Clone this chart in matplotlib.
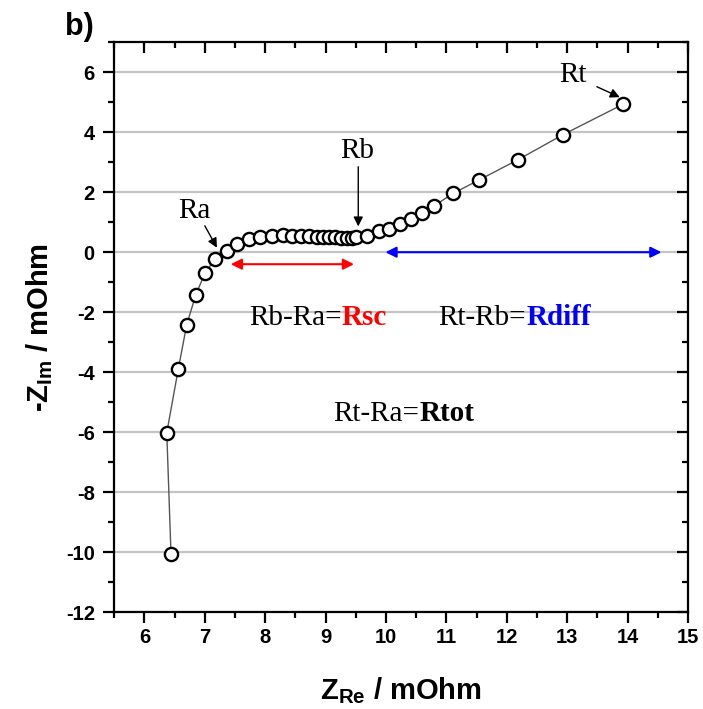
import matplotlib
matplotlib.use("Agg")
import matplotlib.pyplot as plt
from matplotlib.ticker import MultipleLocator

plt.rcParams["font.family"] = "Liberation Sans"
plt.rcParams["font.weight"] = "bold"
plt.rcParams["axes.labelweight"] = "bold"
plt.rcParams["axes.unicode_minus"] = False
plt.rcParams["mathtext.fontset"] = "custom"
plt.rcParams["mathtext.rm"] = "Liberation Sans:bold"
plt.rcParams["mathtext.bf"] = "Liberation Sans:bold"
plt.rcParams["mathtext.it"] = "Liberation Sans:bold"

# Nyquist data (mOhm).
z_re = [6.44, 6.37, 6.56, 6.70, 6.85, 7.00, 7.17, 7.36, 7.54, 7.73, 7.92, 8.11,
        8.29, 8.44, 8.59, 8.73, 8.85, 8.96, 9.06, 9.16, 9.25, 9.35, 9.43, 9.51,
        9.68, 9.89, 10.05, 10.23, 10.41, 10.60, 10.79, 11.11, 11.54, 12.18,
        12.93, 13.93]
z_im = [-10.08, -6.02, -3.90, -2.42, -1.42, -0.71, -0.22, 0.05, 0.29, 0.45,
        0.52, 0.55, 0.57, 0.55, 0.54, 0.53, 0.52, 0.51, 0.50, 0.50, 0.49, 0.49,
        0.49, 0.51, 0.55, 0.71, 0.79, 0.95, 1.10, 1.31, 1.54, 1.96, 2.41, 3.08,
        3.92, 4.94]

# Characteristic points and ranges.
ra_pt = (7.20, 0.15)
rb_pt = (9.54, 0.86)
rt_pt = (13.87, 5.17)
rsc_range = (7.43, 9.47)
rdiff_range = (9.99, 14.56)

fig = plt.figure(figsize=(7.03, 7.09), dpi=100)
ax = fig.add_axes([0.1625, 0.1368, 0.8162, 0.8035])

ax.plot(z_re, z_im, color="#555555", lw=1.0, zorder=2)
ax.plot(z_re, z_im, ls="none", marker="o", ms=9.5, mfc="white", mec="black",
        mew=1.7, zorder=3)

ax.set_xlim(5.5, 15)
ax.set_ylim(-12, 7)
ax.xaxis.set_major_locator(MultipleLocator(1))
ax.xaxis.set_minor_locator(MultipleLocator(0.5))
ax.yaxis.set_major_locator(MultipleLocator(2))
ax.yaxis.set_minor_locator(MultipleLocator(1))
ax.grid(axis="y", which="major", color="#c4c4c4", lw=1.6, zorder=0)
ax.set_axisbelow(True)

for s in ax.spines.values():
    s.set_linewidth(1.6)

ax.tick_params(which="both", direction="out", width=1.6, labelsize=14.5, pad=6)
ax.tick_params(axis="x", which="both", pad=3.5)
ax.tick_params(which="major", length=8)
ax.tick_params(which="minor", length=4)
ax.tick_params(which="both", top=True, right=True)
# top/right ticks point inward
for t in ax.xaxis.get_major_ticks() + ax.xaxis.get_minor_ticks():
    t.tick2line.set_marker(matplotlib.lines.TICKDOWN)
for t in ax.yaxis.get_major_ticks() + ax.yaxis.get_minor_ticks():
    t.tick2line.set_marker(matplotlib.lines.TICKLEFT)

ax.set_xlabel(r"Z$_{\mathrm{Re}}$ / mOhm", fontsize=21, fontweight="bold",
              labelpad=20)
ax.set_ylabel(r"-Z$_{\mathrm{Im}}$ / mOhm", fontsize=21, fontweight="bold",
              labelpad=8)

fig.text(0.093, 0.962, "b)", fontsize=22, fontweight="bold", ha="left",
         va="center")

serif = "Liberation Serif"
arrow_k = dict(arrowstyle="-|>", color="black", lw=1.0, mutation_scale=14,
               shrinkA=0, shrinkB=0)
ax.annotate("", xy=ra_pt, xytext=(7.0, 0.88), arrowprops=arrow_k, zorder=4)
ax.text(6.83, 1.13, "Ra", family=serif, fontweight="normal", fontsize=21,
        ha="center", va="baseline")
ax.annotate("", xy=rb_pt, xytext=(9.54, 2.85), arrowprops=arrow_k, zorder=4)
ax.text(9.52, 3.13, "Rb", family=serif, fontweight="normal", fontsize=21,
        ha="center", va="baseline")
ax.annotate("", xy=rt_pt, xytext=(13.49, 5.52), arrowprops=arrow_k, zorder=4)
ax.text(13.10, 5.69, "Rt", family=serif, fontweight="normal", fontsize=21,
        ha="center", va="baseline")

ax.annotate("", xy=(rsc_range[0], -0.4), xytext=(rsc_range[1], -0.4),
            arrowprops=dict(arrowstyle="<|-|>", color="red", lw=1.5,
                            mutation_scale=16, shrinkA=0, shrinkB=0))
ax.annotate("", xy=(rdiff_range[0], 0.0), xytext=(rdiff_range[1], 0.0),
            arrowprops=dict(arrowstyle="<|-|>", color="blue", lw=1.5,
                            mutation_scale=16, shrinkA=0, shrinkB=0))

# Equations: plain part + bold coloured part
ax.text(9.27, -2.44, "Rb-Ra=", family=serif, fontweight="normal", fontsize=21,
        ha="right", va="baseline")
ax.text(9.27, -2.44, "Rsc", family=serif, fontsize=21, fontweight="bold",
        color="red", ha="left", va="baseline")
ax.text(12.32, -2.44, "Rt-Rb=", family=serif, fontweight="normal", fontsize=21,
        ha="right", va="baseline")
ax.text(12.32, -2.44, "Rdiff", family=serif, fontsize=21, fontweight="bold",
        color="blue", ha="left", va="baseline")
ax.text(10.55, -5.62, "Rt-Ra=", family=serif, fontweight="normal", fontsize=21,
        ha="right", va="baseline")
ax.text(10.55, -5.62, "Rtot", family=serif, fontsize=21, fontweight="bold",
        color="black", ha="left", va="baseline")

fig.savefig("out.png", dpi=100)
